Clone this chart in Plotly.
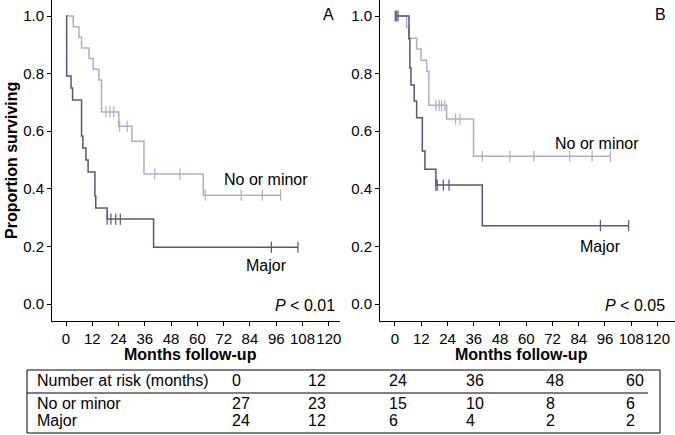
import numpy as np
import plotly.graph_objects as go

W, H = 675, 435

# ---------------- data ----------------
# Panel A
a_minor_t = [0, 3.3, 5.9, 7.1, 10.5, 12.4, 15.0, 16.2, 24.1, 30.1, 35.6, 62.7, 98.0]
a_minor_s = [1.0, 0.963, 0.926, 0.889, 0.852, 0.815, 0.778, 0.667, 0.617, 0.565, 0.451, 0.378, 0.378]
a_minor_c = [18.2, 20.0, 21.8, 24.5, 27.9, 40.5, 52.0, 63.6, 80.0, 89.7, 98.0]

a_major_t = [0, 0.3, 2.3, 3.0, 7.1, 7.7, 9.1, 10.1, 13.2, 13.6, 18.8, 40.0, 106.0]
a_major_s = [1.0, 0.792, 0.75, 0.708, 0.583, 0.542, 0.5, 0.458, 0.375, 0.333, 0.295, 0.197, 0.197]
a_major_c = [18.8, 20.5, 22.7, 24.8, 93.8, 105.9]

# Panel B
b_minor_t = [0, 5.3, 6.4, 9.9, 11.9, 14.5, 15.5, 23.6, 35.9, 98.5]
b_minor_s = [1.0, 0.962, 0.923, 0.885, 0.846, 0.808, 0.69, 0.642, 0.513, 0.513]
b_minor_c = [18.7, 20.2, 21.3, 22.8, 27.7, 29.7, 39.9, 52.5, 63.5, 79.9, 90.1, 98.5]

b_major_t = [0, 6.4, 6.8, 7.3, 8.8, 9.9, 12.5, 13.7, 18.7, 39.9, 106.8]
b_major_s = [1.0, 0.92, 0.82, 0.76, 0.705, 0.647, 0.531, 0.468, 0.413, 0.272, 0.272]
b_major_c = [0.1, 0.6, 1.4, 18.7, 19.3, 22.1, 24.7, 93.9, 106.8]

x_ticks = list(range(0, 121, 12))
y_ticks = [0.0, 0.2, 0.4, 0.6, 0.8, 1.0]

# number-at-risk table
risk_header = "Number at risk (months)"
risk_months = [0, 12, 24, 36, 48, 60]
risk_groups = ["No or minor", "Major"]
risk_minor = [27, 23, 15, 10, 8, 6]
risk_major = [24, 12, 6, 4, 2, 2]

# ---------------- styles ----------------
LIGHT = "#aeaecb"
DARK = "#55557f"
FONT = "Liberation Sans, Arial, sans-serif"


def step_value(times, surv, t):
    idx = np.searchsorted(np.array(times), t, side="right") - 1
    return float(np.array(surv)[max(idx, 0)])


fig = go.Figure()


def add_km(times, surv, cens, color, xa, ya):
    fig.add_trace(go.Scatter(x=times, y=surv, mode="lines", line=dict(color=color, width=1.5, shape="hv"),
                             xaxis=xa, yaxis=ya, showlegend=False, hoverinfo="skip"))
    cy = [step_value(times, surv, c) for c in cens]
    fig.add_trace(go.Scatter(x=cens, y=cy, mode="markers",
                             marker=dict(symbol="line-ns-open", size=8, color=color,
                                         line=dict(color=color, width=1.2)),
                             xaxis=xa, yaxis=ya, showlegend=False, hoverinfo="skip"))


add_km(a_minor_t, a_minor_s, a_minor_c, LIGHT, "x", "y")
add_km(a_major_t, a_major_s, a_major_c, DARK, "x", "y")
add_km(b_minor_t, b_minor_s, b_minor_c, LIGHT, "x2", "y2")
add_km(b_major_t, b_major_s, b_major_c, DARK, "x2", "y2")


# pixel-based layout helpers
def px(x):
    return x / W


def py(y):
    return 1 - y / H


px_per_month = 2.19
y0_pix, y1_pix = 304.0, 16.0  # pixel of S=0 and S=1
per_unit = y0_pix - y1_pix
y_bottom = -(321 - y0_pix) / per_unit
y_top = 1 + y1_pix / per_unit

xa_common = dict(showline=True, linecolor="black", linewidth=1, ticks="outside", ticklen=4,
                 tickcolor="black", tickwidth=1, showgrid=False, zeroline=False,
                 tickvals=x_ticks, ticktext=[str(v) for v in x_ticks], tickangle=0,
                 automargin=False,
                 tickfont=dict(family=FONT, size=15, color="black"), fixedrange=True)
ya_common = dict(showline=True, linecolor="black", linewidth=1, ticks="outside", ticklen=4,
                 tickcolor="black", tickwidth=1, showgrid=False, zeroline=False,
                 tickvals=y_ticks, ticktext=[f"{v:.1f}" for v in y_ticks],
                 range=[y_bottom, y_top], automargin=False,
                 tickfont=dict(family=FONT, size=15, color="black"), fixedrange=True)

a_left, a_right, a_zero = 52, 340, 66
b_left, b_right, b_zero = 380, 675, 395

fig.update_layout(
    width=W, height=H, margin=dict(l=0, r=0, t=0, b=0, pad=0), autosize=False,
    paper_bgcolor="white", plot_bgcolor="white",
    xaxis=dict(xa_common, domain=[px(a_left), px(a_right)], anchor="y",
               range=[(a_left - a_zero) / px_per_month, (a_right - a_zero) / px_per_month]),
    yaxis=dict(ya_common, domain=[py(321), 1], anchor="x"),
    xaxis2=dict(xa_common, domain=[px(b_left), px(b_right) - 0.0005], anchor="y2",
                range=[(b_left - b_zero) / px_per_month, (b_right - b_zero) / px_per_month]),
    yaxis2=dict(ya_common, domain=[py(321), 1], anchor="x2"),
)

ann = []


def text(x, y, s, size=16, bold=False, xanchor="center", angle=0):
    ann.append(dict(x=px(x), y=py(y), xref="paper", yref="paper", text=(f"<b>{s}</b>" if bold else s),
                    showarrow=False, xanchor=xanchor, yanchor="middle", textangle=angle, borderpad=0,
                    font=dict(family=FONT, size=size, color="black")))


# axis titles
text(12, 161, "Proportion surviving", bold=True, angle=-90)
text(190, 354, "Months follow-up", bold=True)
text(521, 354, "Months follow-up", bold=True)

# panel letters
text(328, 15, "A")
text(660, 15, "B")

# curve labels
text(266, 180, "No or minor")
text(266, 265, "Major")
text(336, 305, "<i>P</i> &lt; 0.01", xanchor="right")
text(597, 143, "No or minor")
text(600, 246, "Major")
text(666, 305, "<i>P</i> &lt; 0.05", xanchor="right")

# table
row_y = [380, 403, 420]
col_x = [231, 307, 388, 465, 545, 625]
text(36, row_y[0], risk_header, xanchor="left")
for cx, m in zip(col_x, risk_months):
    text(cx, row_y[0], str(m), xanchor="left")
for gi, (g, vals) in enumerate(zip(risk_groups, [risk_minor, risk_major])):
    text(36, row_y[gi + 1], g, xanchor="left")
    for cx, v in zip(col_x, vals):
        text(cx, row_y[gi + 1], str(v), xanchor="left")

fig.update_layout(annotations=ann)

fig.add_shape(type="rect", xref="paper", yref="paper", x0=px(27), x1=px(660), y0=py(433), y1=py(370),
              line=dict(color="black", width=1))
fig.add_shape(type="line", xref="paper", yref="paper", x0=px(27), x1=px(648), y0=py(393), y1=py(393),
              line=dict(color="black", width=1))

fig.write_html("out.html",
               config={"displayModeBar": False, "staticPlot": True},
               post_script="document.body.style.margin='0';document.body.style.padding='0';"
                           "document.body.style.overflow='hidden';")
